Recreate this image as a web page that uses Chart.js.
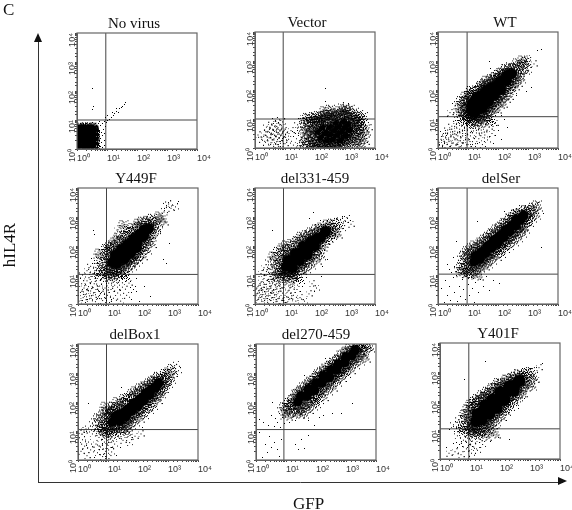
<!DOCTYPE html>
<html>
<head>
<meta charset="utf-8">
<title>GFP vs hIL4R</title>
<script src="https://cdn.jsdelivr.net/npm/chart.js@4"></script>
<style>
  html, body { margin: 0; padding: 0; background: #fff; overflow: hidden; }
  #page { position: relative; width: 572px; height: 510px; overflow: hidden; }
  #page canvas { position: absolute; }
  .label { position: absolute; font-family: "Liberation Serif", serif; color: #111; white-space: nowrap; line-height: 1; }
  .panel-title { font-size: 15px; transform: translate(-50%, -50%); }
  .axis-label { font-size: 17px; }
</style>
</head>
<body>
<div id="page"></div>
<script>
// All points are log10 intensities (decades): [GFP, hIL4R]
const panelTitles = ['No virus', 'Vector', 'WT', 'Y449F', 'del331-459', 'delSer', 'delBox1', 'del270-459', 'Y401F'];
const tickValues = [1, 10, 100, 1000, 10000];
const tickLabels = ['10⁰', '10¹', '10²', '10³', '10⁴'];
const gateX = [0.96, 0.94, 0.97, 0.95, 0.95, 0.97, 0.95, 0.93, 0.96];
const gateY = [1.0, 1.0, 1.08, 1.02, 1.02, 1.03, 1.05, 1.05, 1.04];

// dense centre of each population
const noVirusCore = [[.1,.1],[.1,.27],[.1,.42],[.1,.58],[.1,.72],[.25,.08],[.26,.25],[.25,.43],[.26,.58],[.25,.73],[.4,.1],[.41,.26],[.4,.42],[.41,.57],[.4,.72],[.55,.12],[.54,.3],[.55,.45],[.55,.6],[.53,.72]];
const vectorCore = [[2.1,.55],[2.2,.35],[2.25,.7],[2.35,.5],[2.4,.25],[2.5,.72],[2.5,.45],[2.6,.3],[2.65,.6],[2.7,.85],[2.75,.45],[2.8,.72],[2.85,.25],[2.9,.55],[2.95,.9],[3.0,.7],[3.02,.4],[3.1,.8],[3.15,.6]];
const wtCore = [[1.12,1.32],[1.13,1.52],[1.22,1.22],[1.3,1.42],[1.23,1.63],[1.32,1.76],[1.48,1.38],[1.5,1.6],[1.5,1.85],[1.62,2.0],[1.68,1.6],[1.7,1.8],[1.8,2.1],[1.88,1.82],[1.9,2.0],[2.0,2.22],[2.1,2.02],[2.1,2.3],[2.28,2.32],[2.3,2.5],[2.45,2.56]];
const y449fCore = [[1.15,1.45],[1.25,1.7],[1.3,1.4],[1.4,1.65],[1.45,1.9],[1.55,1.55],[1.6,1.8],[1.65,2.05],[1.75,1.75],[1.8,2.0],[1.85,2.25],[1.95,1.95],[2.0,2.2],[2.05,2.4],[2.2,2.35],[2.2,2.55],[2.35,2.6]];
const del331Core = [[1.05,1.3],[1.1,1.5],[1.25,1.25],[1.3,1.55],[1.35,1.75],[1.5,1.5],[1.55,1.75],[1.6,2.0],[1.75,1.7],[1.8,1.95],[1.85,2.15],[2.0,2.0],[2.05,2.25],[2.2,2.3],[2.35,2.5]];
const delSerCore = [[1.2,1.45],[1.25,1.65],[1.4,1.55],[1.45,1.8],[1.6,1.75],[1.65,2.0],[1.8,1.95],[1.85,2.2],[2.0,2.1],[2.05,2.35],[2.2,2.3],[2.25,2.55],[2.4,2.5],[2.45,2.7],[2.6,2.7],[2.6,2.9],[2.75,2.9],[2.85,3.05]];
const delBox1Core = [[1.15,1.3],[1.25,1.5],[1.4,1.35],[1.45,1.6],[1.6,1.5],[1.65,1.75],[1.8,1.7],[1.85,1.95],[2.0,1.85],[2.05,2.1],[2.2,2.05],[2.25,2.3],[2.4,2.25],[2.45,2.45],[2.6,2.5],[2.68,2.65]];
const del270Core = [[1.4,2.0],[1.5,2.2],[1.7,2.2],[1.75,2.45],[1.95,2.4],[2.0,2.65],[2.2,2.65],[2.25,2.9],[2.45,2.85],[2.5,3.1],[2.7,3.1],[2.75,3.3],[2.95,3.35],[3.0,3.55],[3.2,3.6],[3.3,3.78]];
const y401fCore = [[1.2,1.3],[1.25,1.55],[1.4,1.35],[1.45,1.65],[1.5,1.85],[1.65,1.55],[1.7,1.8],[1.75,2.05],[1.9,1.75],[1.95,2.0],[2.0,2.3],[2.15,2.05],[2.2,2.3],[2.3,2.5],[2.45,2.35],[2.5,2.55],[2.65,2.7]];

// scattered events round each population
const noVirusDust = [[.68,.05],[.71,.18],[.66,.33],[.73,.41],[.69,.52],[.74,.63],[.67,.74],[.78,.09],[.83,.22],[.79,.36],[.86,.47],[.81,.58],[.88,.68],[.77,.82],[.7,.87],[.62,.88],[.51,.9],[.42,.87],[.33,.89],[.22,.88],[.12,.87],[.03,.85],[.02,.6],[.01,.35],[.02,.14],[.91,.31],[.93,.55],[.95,.77],[.98,.92],[1.03,.98],[1.08,1.03],[1.14,1.08],[1.0,1.16],[1.2,1.16],[1.25,1.22],[1.18,1.27],[1.31,1.31],[1.37,1.27],[1.42,1.38],[1.48,1.42],[1.53,1.48],[1.58,1.55],[1.62,1.6],[1.3,1.4],[.9,.95],[.84,.88],[.95,1.08],[.53,1.35],[.54,1.45],[.53,2.1],[.9,.12],[.85,.05],[.75,.95]];
const vectorDust = [[.42,.55],[.47,.35],[.5,.68],[.53,.18],[.56,.82],[.58,.47],[.61,.62],[.63,.28],[.66,.75],[.68,.95],[.7,.42],[.72,.55],[.74,.12],[.77,.7],[.79,.85],[.8,.33],[.83,.58],[.85,.22],[.87,.46],[.9,.72],[.92,.9],[.95,.35],[.97,.6],[1.0,.15],[1.02,.48],[.3,.45],[.22,.3],[.35,.2],[.38,.72],[.62,.05],[.78,.06],[.1,.45],[1.12,.3],[1.2,.6],[1.28,.1],[1.35,.5],[1.42,.8],[1.48,.25],[1.52,.62],[1.56,.95],[1.6,.4],[1.62,.08],[1.65,.72],[1.68,.2],[1.7,.52],[1.72,1.02],[1.74,.85],[1.77,.32],[1.8,.62],[1.82,.12],[1.84,.95],[1.86,.45],[1.88,.75],[1.9,.22],[1.92,1.05],[1.94,.58],[1.96,.05],[1.97,.88],[1.98,.35],[2.0,.15],[2.02,.98],[2.04,.72],[2.05,.1],[2.08,1.08],[2.1,.9],[2.13,.08],[2.15,.98],[2.18,.12],[2.2,1.05],[2.24,.9],[2.28,.04],[2.3,1.1],[2.33,.95],[2.36,.1],[2.4,1.02],[2.42,1.14],[2.46,.06],[2.5,1.05],[2.53,.12],[2.56,1.12],[2.6,1.0],[2.63,.05],[2.66,1.2],[2.7,.1],[2.74,1.12],[2.78,.03],[2.8,1.25],[2.84,1.1],[2.9,.08],[2.92,1.2],[2.96,1.32],[3.0,1.14],[3.04,1.26],[3.08,.1],[3.1,1.08],[3.14,1.3],[3.18,.15],[3.2,1.05],[3.24,.28],[3.26,.9],[3.28,1.2],[3.3,.45],[3.32,.72],[3.34,1.02],[3.36,.2],[3.38,.58],[3.4,.85],[3.42,1.12],[3.44,.35],[3.46,.68],[3.48,.95],[3.5,.12],[3.52,.5],[3.55,.78],[3.58,1.05],[3.6,.3],[3.64,.62],[3.7,.45],[3.75,.2],[3.8,.7],[2.35,1.62],[2.48,1.3],[2.88,1.45],[3.05,1.42],[2.3,1.25],[1.6,1.05],[2.35,2.05]];
const wtDust = [[.05,.1],[.1,.3],[.15,.05],[.18,.5],[.22,.2],[.25,.38],[.3,.12],[.32,.62],[.36,.28],[.4,.05],[.42,.45],[.46,.75],[.5,.18],[.54,.35],[.56,.58],[.6,.1],[.62,.85],[.66,.42],[.7,.25],[.72,.65],[.76,.05],[.78,.95],[.82,.5],[.85,.18],[.88,.72],[.92,.35],[.95,1.02],[.98,.6],[1.0,.12],[1.05,.85],[1.08,.42],[1.12,.95],[1.15,.22],[1.18,.68],[1.22,1.02],[1.25,.05],[1.28,.52],[1.32,.82],[1.36,.32],[1.4,1.0],[1.44,.62],[1.48,.12],[1.52,.9],[1.56,.45],[1.6,1.08],[1.65,.28],[1.7,.72],[1.75,.95],[1.8,.5],[1.85,.15],[1.9,.85],[2.0,.6],[2.1,.3],[2.2,1.0],[2.3,.72],[2.12,1.12],[.62,1.15],[.7,1.35],[.75,1.6],[.8,1.22],[.85,1.48],[.9,1.75],[.4,1.22],[.48,1.55],[.3,1.1],[.92,1.12],[.95,1.32],[.98,1.55],[1.02,1.78],[1.05,1.12],[1.08,1.95],[1.15,1.05],[1.18,1.88],[1.28,1.1],[1.35,1.98],[1.38,1.15],[1.42,2.12],[1.5,1.12],[1.52,2.18],[1.62,1.25],[1.6,2.3],[1.72,1.28],[1.75,2.35],[1.8,1.4],[1.88,2.42],[1.9,1.38],[1.98,2.5],[2.0,1.55],[2.1,1.58],[2.12,2.58],[2.2,1.75],[2.25,2.7],[2.3,1.85],[2.38,2.72],[2.42,2.05],[2.5,2.18],[2.55,2.75],[2.6,2.3],[2.62,2.9],[2.68,2.65],[2.72,2.42],[2.78,2.85],[2.8,3.0],[2.85,2.72],[2.92,2.95],[2.98,3.1],[3.02,2.68],[3.1,2.1],[3.2,2.9],[2.95,1.95],[2.62,1.8],[3.3,3.35],[3.45,3.38],[1.7,3.0],[1.75,2.75]];
const y449fDust = [[.03,.1],[.08,.4],[.12,.7],[.17,.22],[.2,.55],[.25,.05],[.28,.35],[.3,.8],[.35,.6],[.38,.18],[.42,.45],[.47,.95],[.5,.3],[.54,.7],[.58,.08],[.6,.5],[.64,.88],[.68,.25],[.72,.62],[.75,1.05],[.78,.4],[.82,.12],[.85,.78],[.9,.55],[.94,.98],[.98,.3],[1.02,.72],[1.05,.05],[1.1,.5],[1.14,.92],[1.18,.2],[1.22,.65],[1.28,1.05],[1.32,.38],[1.38,.8],[1.42,.1],[1.48,.58],[1.55,.95],[1.62,.3],[1.7,.72],[1.78,.15],[1.85,.5],[1.95,.88],[2.05,.1],[2.2,.6],[2.4,.25],[.15,1.0],[.3,1.15],[.42,1.3],[.5,1.05],[.55,1.5],[.62,1.2],[.7,1.72],[.76,1.4],[.82,1.15],[.88,1.6],[.92,1.88],[.96,1.25],[1.0,1.05],[1.02,1.72],[1.05,2.0],[1.08,1.2],[1.12,1.95],[1.18,1.08],[1.2,2.1],[1.28,1.15],[1.3,2.2],[1.4,1.12],[1.42,2.32],[1.5,1.2],[1.55,2.35],[1.62,1.28],[1.65,2.5],[1.75,1.35],[1.8,2.6],[1.85,1.48],[1.95,1.58],[2.0,2.75],[2.1,1.7],[2.12,2.82],[2.25,1.9],[2.3,2.85],[2.4,2.12],[2.45,2.92],[2.5,2.3],[2.55,2.62],[2.62,2.8],[2.7,3.0],[2.75,2.5],[2.8,2.9],[2.88,3.22],[2.95,3.4],[3.02,3.45],[3.1,3.3],[3.25,3.35],[3.35,3.55],[3.05,2.1],[2.85,1.55],[2.95,1.4],[.5,2.55],[.55,2.4],[1.5,2.7],[1.3,2.55]];
const del331Dust = [[.03,.05],[.06,.35],[.1,.6],[.13,.22],[.16,.48],[.2,.75],[.22,.1],[.25,.32],[.28,.58],[.3,.88],[.33,.18],[.36,.42],[.38,.68],[.42,.05],[.45,.28],[.47,.52],[.5,.95],[.52,.12],[.55,.38],[.58,.7],[.6,.22],[.63,.48],[.66,.85],[.7,.08],[.72,.32],[.74,.6],[.78,1.0],[.8,.2],[.83,.45],[.86,.75],[.9,.12],[.93,.55],[.96,.92],[1.0,.3],[1.03,.68],[1.06,.05],[1.1,.45],[1.13,.82],[1.16,.18],[1.2,.58],[1.24,.95],[1.28,.3],[1.32,.72],[1.36,.1],[1.4,.5],[1.45,.88],[1.5,.22],[1.58,.62],[1.65,.1],[1.72,.9],[1.8,.35],[1.9,.7],[2.05,.55],[2.2,.95],[.2,1.05],[.3,1.25],[.38,1.12],[.45,1.45],[.52,1.2],[.6,1.62],[.65,1.35],[.7,1.08],[.75,1.78],[.8,1.5],[.85,1.22],[.9,1.9],[.92,1.05],[.98,1.68],[1.0,1.12],[1.02,2.0],[1.1,1.05],[1.12,1.85],[1.2,2.05],[1.22,1.08],[1.35,1.1],[1.38,2.15],[1.5,1.2],[1.52,2.3],[1.65,1.25],[1.68,2.35],[1.82,1.38],[1.85,2.45],[2.0,1.55],[2.02,2.55],[2.15,1.7],[2.2,2.62],[2.3,1.85],[2.4,2.72],[2.45,2.15],[2.52,2.4],[2.55,2.75],[2.62,2.58],[2.7,2.45],[2.75,2.78],[2.85,2.9],[2.92,2.6],[3.0,2.88],[3.08,2.95],[3.2,2.75],[2.25,1.3],[2.4,1.55],[.58,2.55],[1.95,3.15],[1.8,2.95]];
const delSerDust = [[.1,.55],[.2,.05],[.25,.8],[.3,.3],[.38,.62],[.42,.12],[.5,.9],[.55,.4],[.6,1.0],[.65,.08],[.7,.6],[.75,.25],[.8,.85],[.85,.5],[.9,.15],[.95,.95],[1.0,.68],[1.05,.3],[1.1,.9],[1.15,.55],[1.2,.05],[1.25,.75],[1.3,1.0],[1.35,.4],[1.42,.85],[1.5,.6],[1.6,.95],[1.72,.45],[1.85,.8],[2.05,.7],[.3,1.35],[.38,1.2],[.45,1.08],[.5,1.6],[.55,1.3],[.62,1.12],[.68,1.5],[.75,1.25],[.8,1.08],[.85,1.65],[.88,1.4],[.92,1.2],[.95,1.8],[.98,1.05],[1.02,1.55],[1.05,1.22],[1.08,1.9],[1.12,1.1],[1.15,1.72],[1.2,2.0],[1.25,1.18],[1.3,1.95],[1.35,1.28],[1.4,2.1],[1.5,1.35],[1.52,2.2],[1.62,1.42],[1.65,2.3],[1.75,1.55],[1.78,2.42],[1.9,1.68],[1.92,2.55],[2.05,1.78],[2.08,2.65],[2.18,1.95],[2.2,2.78],[2.32,2.05],[2.38,2.92],[2.48,2.18],[2.55,3.05],[2.62,2.32],[2.7,3.1],[2.75,2.48],[2.85,2.62],[2.9,3.22],[2.98,2.85],[3.02,3.18],[3.08,3.0],[3.15,3.3],[3.22,3.1],[3.28,3.38],[3.35,3.5],[3.5,3.12],[3.45,1.95],[1.3,2.85],[2.2,3.18],[.6,2.15]];
const delBox1Dust = [[.1,.3],[.15,.7],[.22,.48],[.3,.15],[.35,.62],[.42,.35],[.48,.9],[.55,.08],[.6,.55],[.65,.25],[.7,.78],[.75,.45],[.8,.98],[.82,.12],[.88,.62],[.92,.3],[.96,.85],[1.0,.5],[1.03,.05],[1.08,.72],[1.12,.28],[1.18,.92],[1.22,.55],[1.28,.15],[1.35,.8],[1.42,.42],[1.5,.68],[1.6,.95],[1.72,.6],[1.9,.82],[2.1,.9],[.1,1.02],[.2,1.0],[.35,1.1],[.48,1.25],[.58,1.08],[.65,1.42],[.72,1.2],[.78,1.05],[.82,1.55],[.88,1.3],[.92,1.12],[.95,1.62],[.98,1.02],[1.02,1.42],[1.05,1.72],[1.08,1.1],[1.12,1.6],[1.15,1.82],[1.22,1.05],[1.25,1.75],[1.3,1.98],[1.38,1.08],[1.42,1.9],[1.5,1.12],[1.52,2.08],[1.6,1.18],[1.65,2.12],[1.72,1.25],[1.78,2.25],[1.85,1.35],[1.9,2.35],[2.0,1.48],[2.05,2.45],[2.15,1.6],[2.2,2.52],[2.32,1.78],[2.35,2.62],[2.45,1.92],[2.52,2.72],[2.6,2.12],[2.65,2.85],[2.72,2.32],[2.78,2.78],[2.82,2.5],[2.88,2.95],[2.95,2.68],[3.0,3.0],[3.05,2.82],[3.12,3.12],[3.2,2.95],[3.28,3.3],[3.35,3.08],[2.15,1.12],[.9,1.82],[.35,1.95],[1.45,2.5]];
const del270Dust = [[.1,.95],[.2,.1],[.3,.55],[.38,.25],[.45,.8],[.5,.42],[.62,.62],[.7,.35],[.78,.12],[.85,.7],[1.3,.55],[1.4,.35],[1.5,.72],[1.62,.4],[1.75,.85],[.12,1.4],[.25,1.3],[.4,1.2],[.5,1.55],[.6,1.15],[.65,1.42],[.72,1.3],[.78,1.62],[.82,1.12],[.88,1.45],[.92,1.8],[.96,1.25],[1.0,1.55],[1.05,1.72],[1.08,1.95],[1.12,1.3],[1.15,1.62],[1.18,1.85],[1.2,2.05],[1.25,1.5],[1.28,1.75],[1.32,1.35],[1.35,2.25],[1.4,1.62],[1.45,1.75],[1.48,2.38],[1.55,1.62],[1.6,1.82],[1.62,2.48],[1.7,1.78],[1.75,1.35],[1.78,2.65],[1.85,1.9],[1.9,2.72],[1.95,1.98],[2.02,2.88],[2.05,2.12],[2.1,1.45],[2.15,3.0],[2.2,2.22],[2.3,3.1],[2.35,2.42],[2.45,3.22],[2.5,2.55],[2.58,3.32],[2.65,2.72],[2.72,3.45],[2.8,2.88],[2.85,3.58],[2.95,3.02],[3.0,3.72],[3.1,3.15],[3.12,3.82],[3.25,3.32],[3.3,3.92],[3.42,3.45],[3.45,3.95],[3.5,3.7],[3.55,3.82],[3.6,3.55],[3.65,3.95],[3.75,3.9],[3.2,1.95],[2.85,1.6],[2.25,1.55],[2.55,1.62],[1.95,1.2],[2.3,3.5],[.55,2.0],[1.6,2.9]];
const y401fDust = [[.2,.4],[.3,.2],[.45,.55],[.5,.25],[.58,.8],[.65,.5],[.7,.15],[.78,.65],[.82,.95],[.88,.35],[.92,.72],[.98,.5],[1.02,.9],[1.05,.2],[1.08,.62],[1.12,.42],[1.15,.85],[1.2,.98],[1.25,.3],[1.3,.7],[1.35,.92],[1.42,.5],[1.5,.82],[1.58,.98],[1.68,.6],[1.8,.9],[1.95,.75],[2.3,.68],[.3,1.02],[.45,1.18],[.55,1.05],[.62,1.35],[.68,1.2],[.75,1.08],[.8,1.5],[.85,1.3],[.9,1.7],[.93,1.12],[.97,1.52],[1.0,1.85],[1.03,1.25],[1.06,1.02],[1.1,1.68],[1.12,1.95],[1.15,1.1],[1.18,1.78],[1.22,2.05],[1.28,1.02],[1.32,1.98],[1.38,2.18],[1.42,1.12],[1.48,2.1],[1.55,2.3],[1.58,1.15],[1.62,2.28],[1.7,1.22],[1.72,2.42],[1.82,1.32],[1.85,2.45],[1.92,2.6],[2.0,1.5],[2.05,2.58],[2.15,1.68],[2.2,2.72],[2.28,1.85],[2.35,2.75],[2.42,2.02],[2.48,2.82],[2.55,2.18],[2.62,2.9],[2.7,2.32],[2.75,2.85],[2.8,2.52],[2.85,2.95],[2.9,2.68],[2.98,2.98],[3.02,2.55],[3.08,2.82],[3.15,3.05],[3.22,2.72],[3.3,3.15],[3.4,3.3],[2.8,2.1],[2.6,1.75],[1.5,3.35],[.8,2.75]];

const coreData = [noVirusCore, vectorCore, wtCore, y449fCore, del331Core, delSerCore, delBox1Core, del270Core, y401fCore];
const dustData = [noVirusDust, vectorDust, wtDust, y449fDust, del331Dust, delSerDust, delBox1Dust, del270Dust, y401fDust];

// where each panel's plot area sits on the page
const panelLeft = [77, 255, 438, 78, 255, 438, 78, 256, 440];
const panelTop = [33, 32, 32, 188, 188, 188, 344, 344, 343];
const titleCenter = [134, 307, 505, 136, 315, 501, 135, 316, 498];
// solid part and speckled rim of a core mark, in pixels
const coreRadius = [3, 3, 5.5, 5.5, 5.5, 5, 5, 5, 6];
const coreFuzz = [3, 7, 8, 8, 8, 8, 8, 7, 8];
// how heavy a stray mark is: 0 one dot, 1 a few dots, 2 a speckle, 3 a thick speckle
const nearWeight = [0, 3, 3, 3, 3, 3, 3, 3, 3];
const farWeight = [0, 1, 1, 1, 1, 0, 1, 0, 1];

const INK = '#333';
const SANS = '"Liberation Sans", sans-serif';
const page = document.getElementById('page');

function toPoints(list) {
    return list.map(p => ({ x: Math.pow(10, p[0]), y: Math.pow(10, p[1]) }));
}

function makeSpeckle(size, dots) {
    const c = document.createElement('canvas');
    c.width = size;
    c.height = size;
    const g = c.getContext('2d');
    g.fillStyle = '#000';
    dots.forEach(d => g.fillRect(d[0], d[1], 1, 1));
    return c;
}

// solid disc with dots thinning outwards, golden angle so the rim does not look ringed
function makeCoreMark(radius, fuzz) {
    const size = Math.ceil(radius + fuzz) * 2 + 1;
    const mid = size / 2;
    const c = document.createElement('canvas');
    c.width = size;
    c.height = size;
    const g = c.getContext('2d');
    g.fillStyle = '#000';
    g.beginPath();
    g.arc(mid, mid, radius, 0, Math.PI * 2);
    g.fill();
    const count = 70;
    for (let k = 0; k < count; k++) {
        const r = radius + fuzz * Math.pow(k / count, 1.4);
        const a = k * 2.39996;
        g.fillRect(Math.round(mid + r * Math.cos(a)), Math.round(mid + r * Math.sin(a)), 1, 1);
    }
    return c;
}

// a typed mark stands for a small group of events, the reference has thousands
const speckles = [
    makeSpeckle(1, [[0, 0]]),
    makeSpeckle(7, [[3, 3], [0, 1], [5, 0], [1, 6], [6, 5]]),
    makeSpeckle(13, [[6, 6], [2, 3], [9, 2], [4, 9], [11, 8], [1, 10], [7, 11], [10, 5], [5, 1], [0, 6], [8, 8], [3, 6], [12, 11], [11, 1]]),
    makeSpeckle(13, [[6, 6], [2, 3], [9, 2], [4, 9], [11, 8], [1, 10], [7, 11], [10, 5], [5, 1], [0, 6], [8, 8], [3, 6], [12, 11], [11, 1], [5, 4], [7, 3], [8, 5], [4, 6], [6, 8], [3, 8], [9, 7], [7, 5], [5, 7], [2, 6], [6, 2], [10, 9], [8, 10], [3, 1]])
];

function nearCore(point, core) {
    return core.some(c => Math.abs(c[0] - point[0]) < 0.5 && Math.abs(c[1] - point[1]) < 0.5);
}

function isLone(point, list) {
    return list.filter(o => Math.abs(o[0] - point[0]) < 0.25 && Math.abs(o[1] - point[1]) < 0.25).length < 3;
}

function addLabel(text, cls, left, top) {
    const el = document.createElement('div');
    el.className = 'label ' + cls;
    el.textContent = text;
    el.style.left = left + 'px';
    el.style.top = top + 'px';
    page.appendChild(el);
    return el;
}

function addCanvas(left, top, width, height) {
    const canvas = document.createElement('canvas');
    canvas.width = width;
    canvas.height = height;
    canvas.style.left = left + 'px';
    canvas.style.top = top + 'px';
    page.appendChild(canvas);
    return canvas.getContext('2d');
}

function logTick(value) {
    const i = tickValues.indexOf(value);
    return i >= 0 ? tickLabels[i] : '';
}

function logAxis(extra) {
    return Object.assign({
        type: 'logarithmic',
        min: 1,
        max: 10000,
        grid: { drawOnChartArea: false, drawTicks: true, tickLength: 2, color: '#444' },
        border: { color: '#555', width: 1 }
    }, extra);
}

const framePlugin = {
    id: 'frame',
    afterDatasetsDraw(chart) {
        const a = chart.chartArea;
        const ctx = chart.ctx;
        ctx.save();
        ctx.strokeStyle = '#666';
        ctx.lineWidth = 1.2;
        ctx.strokeRect(a.left, a.top, a.width, a.height);
        ctx.restore();
    }
};

// the big axes round the whole figure, arrowheads on the ends
const arrowPlugin = {
    id: 'arrows',
    afterDraw(chart) {
        const a = chart.chartArea;
        const ctx = chart.ctx;
        ctx.save();
        ctx.fillStyle = '#111';
        ctx.beginPath();
        ctx.moveTo(a.left, a.top - 5);
        ctx.lineTo(a.left - 4, a.top + 4);
        ctx.lineTo(a.left + 4, a.top + 4);
        ctx.fill();
        ctx.beginPath();
        ctx.moveTo(a.right + 5, a.bottom - 1);
        ctx.lineTo(a.right - 4, a.bottom - 5);
        ctx.lineTo(a.right - 4, a.bottom + 3);
        ctx.fill();
        ctx.restore();
    }
};

new Chart(addCanvas(0, 0, 572, 510), {
    type: 'scatter',
    data: { datasets: [] },
    plugins: [arrowPlugin],
    options: {
        responsive: false,
        animation: false,
        layout: { padding: { left: 38, top: 38, right: 10, bottom: 28 } },
        plugins: { legend: { display: false }, tooltip: { enabled: false } },
        scales: {
            x: { afterFit(s) { s.height = 0; }, ticks: { display: false }, grid: { display: false }, border: { color: '#333', width: 1 } },
            y: { afterFit(s) { s.width = 0; }, ticks: { display: false }, grid: { display: false }, border: { color: '#333', width: 1 } }
        }
    }
});

panelTitles.forEach((title, i) => {
    const gx = Math.pow(10, gateX[i]);
    const gy = Math.pow(10, gateY[i]);
    const dust = dustData[i];
    const weights = dust.map(p => {
        if (isLone(p, dust)) return 0;
        return nearCore(p, coreData[i]) ? nearWeight[i] : farWeight[i];
    });
    new Chart(addCanvas(panelLeft[i] - 26, panelTop[i] - 14, 160, 150), {
        type: 'scatter',
        data: {
            datasets: [
                {
                    data: toPoints(coreData[i]),
                    pointRadius: 2,
                    pointStyle: makeCoreMark(coreRadius[i], coreFuzz[i]),
                    backgroundColor: '#000',
                    borderWidth: 0
                },
                {
                    data: toPoints(dust),
                    pointRadius: 1,
                    pointStyle: ctx => speckles[weights[ctx.dataIndex]],
                    backgroundColor: '#000',
                    borderWidth: 0
                },
                { data: [{ x: gx, y: 1 }, { x: gx, y: 10000 }], showLine: true, pointRadius: 0, borderColor: '#444', borderWidth: 1 },
                { data: [{ x: 1, y: gy }, { x: 10000, y: gy }], showLine: true, pointRadius: 0, borderColor: '#444', borderWidth: 1 }
            ]
        },
        plugins: [framePlugin],
        options: {
            responsive: false,
            animation: false,
            layout: { padding: { top: 14, right: 14, left: 0, bottom: 0 } },
            plugins: { legend: { display: false }, tooltip: { enabled: false } },
            scales: {
                x: logAxis({
                    afterFit(scale) { scale.height = 20; scale.paddingRight = 0; scale.paddingLeft = 0; },
                    ticks: { autoSkip: false, maxRotation: 0, align: 'start', padding: 2, color: INK, font: { family: SANS, size: 9 }, callback: logTick }
                }),
                y: logAxis({
                    afterFit(scale) { scale.width = 26; scale.paddingTop = 0; scale.paddingBottom = 0; },
                    ticks: { autoSkip: false, minRotation: 90, maxRotation: 90, padding: 2, color: INK, font: { family: SANS, size: 9 }, callback: logTick }
                })
            }
        }
    });
    addLabel(title, 'panel-title', titleCenter[i], panelTop[i] - 10);
});

addLabel('C', 'axis-label', 3, 1);
addLabel('GFP', 'axis-label', 293, 495);
addLabel('hIL4R', 'axis-label', 9, 245).style.transform = 'translate(-50%, -50%) rotate(-90deg)';
</script>
</body>
</html>
